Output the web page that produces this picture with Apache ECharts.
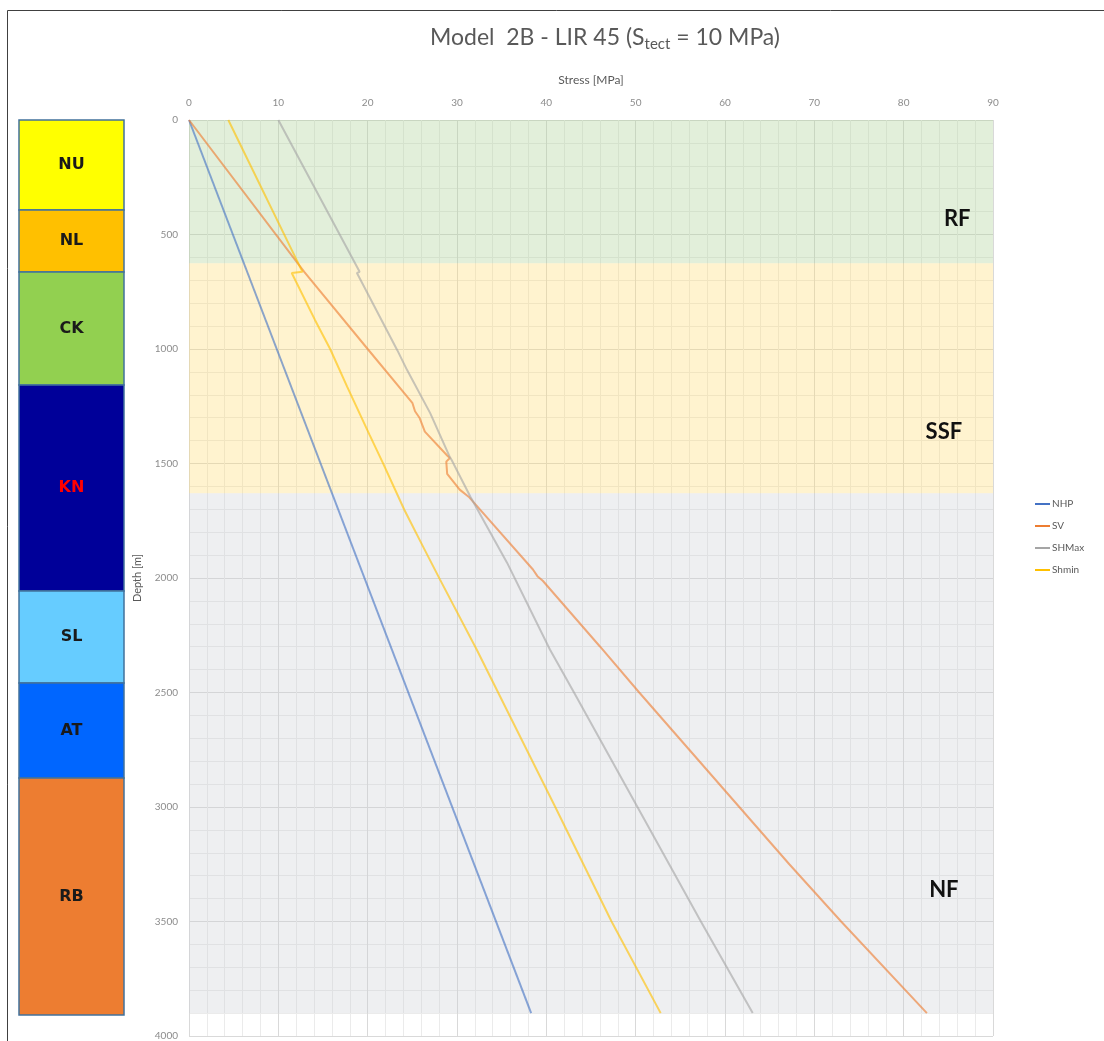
<!DOCTYPE html>
<html>
<head>
<meta charset="utf-8">
<script src="https://cdn.jsdelivr.net/npm/echarts@6/dist/echarts.min.js"></script>
<style>
  html, body { margin: 0; padding: 0; background: #fff; }
  #chart { width: 1104px; height: 1041px; }
</style>
</head>
<body>
<div id="chart"></div>
<script>
// Stress profiles: [stress MPa, depth m]
const nhp = [[0, 0], [38.3, 3900]];
const sv = [
  [0, 0], [12.9, 663], [20.0, 1000], [25.0, 1235], [25.3, 1272], [25.8, 1300],
  [26.4, 1361], [28.9, 1465], [29.2, 1476], [28.8, 1492], [28.9, 1545],
  [30.3, 1614], [31.3, 1645], [38.5, 1963], [39.0, 1992], [39.6, 2012],
  [46.0, 2299], [50.4, 2500], [56.0, 2750], [61.6, 3000], [67.2, 3250],
  [73.0, 3500], [82.6, 3900]
];
const shmax = [
  [10.0, 0], [19.1, 663], [18.8, 668], [23.3, 1004], [24.4, 1091], [27.0, 1280],
  [29.2, 1472], [29.4, 1485], [31.5, 1645], [35.6, 1933], [40.4, 2312],
  [43.1, 2500], [50.2, 3000], [57.3, 3500], [63.1, 3900]
];
const shmin = [
  [4.4, 0], [12.7, 663], [11.5, 668], [14.1, 873], [15.8, 1000], [17.7, 1164],
  [20.2, 1374], [21.7, 1497], [24.1, 1702], [26.2, 1863], [28.1, 2007],
  [32.2, 2312], [41.0, 3000], [47.3, 3500], [52.8, 3900]
];

// Stress regimes: name, top depth, bottom depth, label position
const regimeNames = ['RF', 'SSF', 'NF'];
const regimeTop = [0, 625, 1630];
const regimeBottom = [625, 1630, 3900];
const regimeLabelDepth = [430, 1360, 3360];
const regimeLabelStress = [86, 84.5, 84.5];
const regimeFills = ['rgba(172,209,149,0.35)', 'rgba(255,218,109,0.33)', 'rgba(204,206,212,0.33)'];

// Lithostratigraphic units
const unitNames = ['NU', 'NL', 'CK', 'KN', 'SL', 'AT', 'RB'];
const unitTop = [0, 393, 663, 1156, 2055, 2456, 2870];
const unitBottom = [393, 663, 1156, 2055, 2456, 2870, 3904];
const unitFills = ['#FFFF00', '#FFC000', '#92D050', '#000099', '#66CCFF', '#0066FF', '#ED7D31'];
const unitText = ['#1a1a1a', '#1a1a1a', '#1a1a1a', '#FF0000', '#1a1a1a', '#1a1a1a', '#1a1a1a'];

const xTicks = { min: 0, max: 90, interval: 10 };
const yTicks = { min: 0, max: 4000, interval: 500 };

const chart = echarts.init(document.getElementById('chart'), null, { renderer: 'canvas' });

const labelFont = 'Lato, "Open Sans", sans-serif';

function lineSeries(name, data, color) {
  return {
    name, type: 'line', data, xAxisIndex: 0, yAxisIndex: 0,
    symbol: 'none', smooth: false, z: 5,
    itemStyle: { color },
    lineStyle: { color, width: 2, opacity: 0.62 },
    emphasis: { disabled: true }
  };
}

const option = {
  animation: false,
  backgroundColor: '#ffffff',
  title: {
    text: '{a|Model  2B - LIR 45 (S}{b|tect}{a| = 10 MPa)}',
    left: 600, top: 18, textAlign: 'center',
    textStyle: {
      fontWeight: 'normal',
      rich: {
        a: { fontFamily: labelFont, fontWeight: 'normal', fontSize: 23, color: '#595959', lineHeight: 30 },
        b: { fontFamily: labelFont, fontWeight: 'normal', fontSize: 15, color: '#595959', lineHeight: 30, padding: [12, 0, 0, 0] }
      }
    }
  },
  legend: {
    orient: 'vertical', left: 1030, top: 494,
    itemWidth: 15, itemHeight: 2, itemGap: 12, icon: 'rect',
    textStyle: { fontFamily: labelFont, fontSize: 10, color: '#595959', padding: [0, 0, 0, -3] },
    data: ['NHP', 'SV', 'SHMax', 'Shmin']
  },
  grid: [
    { left: 189, top: 120, width: 804, height: 917 },
    { left: 19, top: 120, width: 105, height: 917 }
  ],
  xAxis: [
    {
      type: 'value', position: 'top', gridIndex: 0,
      min: xTicks.min, max: xTicks.max, interval: xTicks.interval,
      name: 'Stress [MPa]', nameLocation: 'middle', nameGap: 34,
      nameTextStyle: { fontFamily: labelFont, fontSize: 12, color: '#595959' },
      axisLine: { show: false }, axisTick: { show: false },
      axisLabel: { fontFamily: labelFont, fontSize: 10, color: '#8c8c8c', margin: 12 },
      splitLine: { show: true, lineStyle: { color: '#d9d9d9', width: 1 } },
      minorTick: { show: false, splitNumber: 5 },
      minorSplitLine: { show: true, lineStyle: { color: '#ebebeb', width: 1 } }
    },
    { type: 'value', gridIndex: 1, min: 0, max: 1, show: false }
  ],
  yAxis: [
    {
      type: 'value', inverse: true, gridIndex: 0,
      min: yTicks.min, max: yTicks.max, interval: yTicks.interval,
      name: 'Depth [m]', nameLocation: 'middle', nameGap: 46, nameRotate: 90,
      nameTextStyle: { fontFamily: labelFont, fontSize: 11, color: '#595959' },
      axisLine: { show: false }, axisTick: { show: false },
      axisLabel: { fontFamily: labelFont, fontSize: 10, color: '#8c8c8c', margin: 11,
                   formatter: v => String(v) },
      splitLine: { show: true, lineStyle: { color: '#d9d9d9', width: 1 } },
      minorTick: { show: false, splitNumber: 5 },
      minorSplitLine: { show: true, lineStyle: { color: '#ebebeb', width: 1 } }
    },
    { type: 'value', inverse: true, gridIndex: 1, min: yTicks.min, max: yTicks.max, show: false }
  ],
  series: [
    // stress regime bands with their labels
    {
      type: 'custom', xAxisIndex: 0, yAxisIndex: 0, z: 1, silent: true,
      data: regimeNames.map((n, i) => [regimeTop[i], regimeBottom[i], regimeLabelDepth[i], regimeLabelStress[i]]),
      encode: { y: [0, 1, 2] },
      renderItem(params, api) {
        const i = params.dataIndex;
        const p1 = api.coord([xTicks.min, api.value(0)]);
        const p2 = api.coord([xTicks.max, api.value(1)]);
        const pl = api.coord([api.value(3), api.value(2)]);
        return {
          type: 'group',
          children: [
            { type: 'rect', shape: { x: p1[0], y: p1[1], width: p2[0] - p1[0], height: p2[1] - p1[1] },
              style: { fill: regimeFills[i] } },
            { type: 'text', z2: 10,
              style: { text: regimeNames[i], x: pl[0], y: pl[1], align: 'center', verticalAlign: 'middle',
                       font: 'bold 22px ' + labelFont, fill: '#111111' } }
          ]
        };
      }
    },
    // stratigraphic column
    {
      type: 'custom', xAxisIndex: 1, yAxisIndex: 1, z: 2, silent: true,
      data: unitNames.map((n, i) => [unitTop[i], unitBottom[i]]),
      encode: { y: [0, 1] },
      renderItem(params, api) {
        const i = params.dataIndex;
        const p1 = api.coord([0, api.value(0)]);
        const p2 = api.coord([1, api.value(1)]);
        return {
          type: 'group',
          children: [
            { type: 'rect', shape: { x: p1[0], y: p1[1], width: p2[0] - p1[0], height: p2[1] - p1[1] },
              style: { fill: unitFills[i], stroke: '#41719C', lineWidth: 1.5 } },
            { type: 'text', z2: 10,
              style: { text: unitNames[i], x: (p1[0] + p2[0]) / 2, y: (p1[1] + p2[1]) / 2,
                       align: 'center', verticalAlign: 'middle',
                       font: 'bold 16px "DejaVu Sans", Verdana, sans-serif', fill: unitText[i] } }
          ]
        };
      }
    },
    lineSeries('NHP', nhp, '#4472C4'),
    lineSeries('SV', sv, '#ED7D31'),
    lineSeries('SHMax', shmax, '#A5A5A5'),
    lineSeries('Shmin', shmin, '#FFC000')
  ],
  graphic: [
    { type: 'rect', silent: true, z: 100,
      shape: { x: 7.5, y: 10.5, width: 1120, height: 1060 },
      style: { fill: 'none', stroke: '#404040', lineWidth: 1 } }
  ]
};

chart.setOption(option);
</script>
</body>
</html>
